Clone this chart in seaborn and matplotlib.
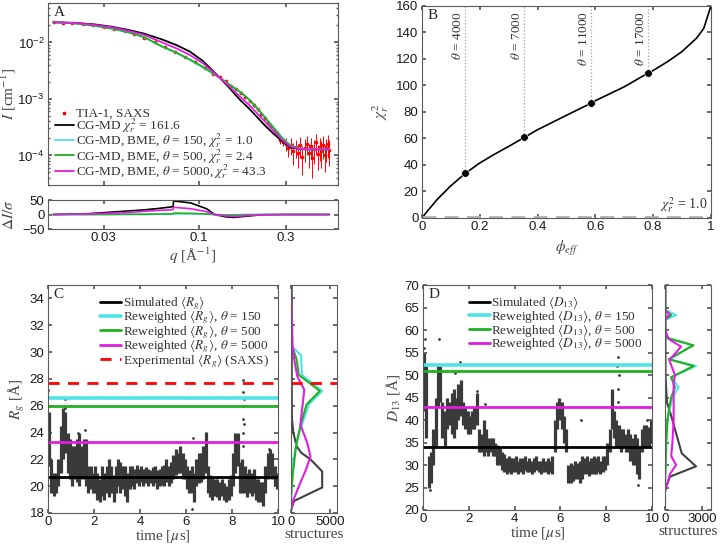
import numpy as np
import pandas as pd
import matplotlib
matplotlib.use("Agg")
import matplotlib.pyplot as plt
import seaborn as sns
from matplotlib.ticker import FixedLocator, NullFormatter, NullLocator, LogLocator

# ---------------- data: panel A (SAXS) ----------------
q_exp = [0.016, 0.018, 0.020, 0.023, 0.026, 0.030, 0.034, 0.039, 0.044, 0.050, 0.057,
         0.065, 0.074, 0.084, 0.095, 0.108, 0.12, 0.13, 0.14, 0.15, 0.16, 0.17, 0.18,
         0.19, 0.20, 0.21, 0.22, 0.23, 0.24, 0.25, 0.26, 0.27, 0.28, 0.29, 0.30, 0.31,
         0.32, 0.33, 0.34, 0.35, 0.36, 0.37, 0.38, 0.39, 0.40, 0.41, 0.42, 0.43, 0.44,
         0.45, 0.46, 0.47, 0.48, 0.49, 0.50, 0.51, 0.52]
I_exp = [0.0228, 0.0225, 0.0220, 0.0210, 0.0200, 0.0186, 0.0172, 0.0157, 0.0141, 0.0122,
         0.0102, 0.0082, 0.0068, 0.0056, 0.0045, 0.0035, 0.0028, 0.00240, 0.00205, 0.00172,
         0.00150, 0.00128, 0.00108, 0.00092, 0.00078, 0.00066, 0.00054, 0.00046, 0.00038,
         0.00033, 0.00027, 0.00024, 0.00019, 0.000175, 0.000160, 0.000135, 0.000150,
         0.000118, 0.000140, 0.000110, 0.000150, 0.000095, 0.000135, 0.000160, 0.000110,
         0.000145, 0.000090, 0.000130, 0.000170, 0.000105, 0.000140, 0.000120, 0.000155,
         0.000100, 0.000135, 0.000160, 0.000125]
I_err = [0.0002, 0.0002, 0.0002, 0.0002, 0.0002, 0.0002, 0.0002, 0.00015, 0.00015, 0.00012,
         0.0001, 0.0001, 0.00008, 0.00007, 0.00006, 0.00006, 0.00006, 0.00006, 0.00006,
         0.00006, 0.00006, 0.00006, 0.00005, 0.00005, 0.00005, 0.00004, 0.00004, 0.00004,
         0.00004, 0.00003, 0.00003, 0.00003, 0.00003, 0.00003, 0.00004, 0.00004, 0.00005,
         0.00005, 0.00005, 0.00005, 0.00006, 0.00005, 0.00006, 0.00006, 0.00005, 0.00006,
         0.00005, 0.00006, 0.00007, 0.00005, 0.00006, 0.00006, 0.00007, 0.00005, 0.00006,
         0.00007, 0.00006]

q_model = [0.0158, 0.021, 0.0268, 0.033, 0.041, 0.05, 0.0626, 0.075, 0.089, 0.105, 0.13,
           0.148, 0.168, 0.188, 0.208, 0.23, 0.255, 0.285, 0.316, 0.36, 0.4, 0.52]
I_cgmd = [0.0228, 0.0221, 0.0208, 0.0190, 0.0166, 0.0143, 0.0113, 0.0090, 0.0069, 0.0047,
          0.00237, 0.00152, 0.00096, 0.00068, 0.00048, 0.00034, 0.000247, 0.00018,
          0.000139, 0.00013, 0.000128, 0.000128]
I_bme150 = [0.0228, 0.0216, 0.0196, 0.0176, 0.0150, 0.0123, 0.0084, 0.0065, 0.0049, 0.0036,
            0.00236, 0.00177, 0.00134, 0.00099, 0.00070, 0.00048, 0.00032, 0.00021,
            0.000152, 0.000132, 0.000128, 0.000128]
I_bme500 = [0.0228, 0.0216, 0.0197, 0.0177, 0.0151, 0.0124, 0.0085, 0.0066, 0.0050, 0.0037,
            0.00237, 0.00176, 0.00133, 0.00098, 0.00069, 0.00047, 0.000316, 0.000205,
            0.000151, 0.000132, 0.000128, 0.000128]
I_bme5000 = [0.0228, 0.0220, 0.0204, 0.0186, 0.0160, 0.0136, 0.0100, 0.0079, 0.0060, 0.0043,
             0.00237, 0.00162, 0.00109, 0.00079, 0.00056, 0.00040, 0.000279, 0.00019,
             0.000145, 0.00013, 0.000128, 0.000128]

q_res = [0.0158, 0.025, 0.04, 0.05, 0.06, 0.072, 0.0725, 0.09, 0.11, 0.122, 0.14, 0.155,
         0.18, 0.22, 0.3, 0.52]
res_cgmd = [0, 3, 12, 16, 21, 27, 47, 40, 20, 0, -8, -10, -6, -1, 0, 0]
res_bme150 = [0, 0, 0, 0, 1, 1, 2, 2, 1, 0, -1, -1, 0, 0, 0, 0]
res_bme500 = [0, 0, 1, 1, 2, 2, 5, 4, 2, 0, -2, -2, -1, 0, 0, 0]
res_bme5000 = [0, 2, 7, 11, 14, 17, 25, 20, 10, 0, -5, -7, -4, -1, 0, 0]

# ---------------- data: panel B ----------------
phi_eff = [0.0, 0.02, 0.052, 0.098, 0.15, 0.2, 0.25, 0.3, 0.354, 0.4, 0.5, 0.586, 0.6,
           0.7, 0.782, 0.8, 0.85, 0.9, 0.95, 0.975, 1.0]
chi2_r = [0.0, 5.5, 13.8, 23.9, 33.7, 41.5, 48.0, 54.0, 60.8, 66.6, 77.5, 86.7, 88.5,
          99.0, 109.3, 111.3, 118.0, 125.6, 135.7, 143.0, 160.0]
theta_phi = [0.150, 0.354, 0.586, 0.782]
theta_chi = [33.7, 60.8, 86.7, 109.3]
theta_lab = ["4000", "7000", "11000", "17000"]

# ---------------- data: panel C (Rg) ----------------
rg_lo = [21.5, 19.5, 19.3, 19.5, 20.0, 21.0, 22.0, 22.5, 21.0, 20.5,
         20.0, 20.5, 20.3, 20.0, 20.5, 20.5, 20.0, 19.5, 19.8, 19.5,
         19.5, 19.0, 18.8, 19.3, 19.0, 19.5, 19.2, 19.5, 18.8, 19.5,
         20.0, 19.5, 19.8, 19.3, 18.8, 19.8, 20.0, 19.8, 20.2, 20.0,
         20.3, 20.0, 20.2, 20.0, 20.2, 20.0, 20.2, 19.8, 20.0, 20.1,
         20.0, 20.3, 20.0, 20.2, 20.5, 20.8, 21.0, 21.0, 20.5, 20.5,
         19.8, 19.5, 19.5, 18.8, 20.0, 20.2, 20.3, 20.5, 21.0, 19.5,
         19.2, 19.0, 19.3, 19.2, 19.0, 19.3, 19.0, 18.8, 19.0, 19.3,
         20.0, 21.0, 21.5, 19.5, 19.5, 19.5, 19.2, 19.5, 19.3, 19.5,
         19.0, 18.8, 18.8, 18.5, 19.5, 20.5, 20.8, 20.5, 20.0, 19.8]
rg_hi = [25.5, 22.0, 21.0, 21.0, 22.0, 24.5, 25.8, 25.5, 24.0, 23.5,
         23.0, 23.0, 23.5, 24.0, 23.0, 23.5, 23.5, 21.5, 21.5, 21.0,
         21.5, 21.0, 20.5, 21.5, 21.0, 21.5, 22.0, 21.5, 20.8, 21.5,
         22.0, 21.8, 21.5, 21.5, 21.0, 21.5, 21.5, 21.3, 21.6, 21.3,
         21.5, 21.3, 21.4, 21.3, 21.2, 21.4, 21.5, 21.2, 21.3, 21.5,
         21.6, 22.0, 21.5, 21.8, 22.3, 22.8, 22.5, 23.0, 22.5, 22.0,
         21.5, 21.2, 21.5, 21.0, 22.0, 22.5, 22.5, 23.0, 24.0, 21.5,
         20.8, 20.6, 20.5, 20.5, 20.3, 20.5, 20.2, 20.0, 20.5, 20.8,
         22.5, 24.0, 24.0, 21.8, 22.0, 21.5, 21.0, 21.3, 21.0, 21.3,
         20.5, 20.5, 20.3, 20.3, 21.5, 22.5, 22.8, 22.5, 21.5, 21.0]
rg_spike_t = [0.02, 0.04, 0.75, 1.32, 1.62, 6.28, 6.3, 6.85, 8.48, 8.5, 8.5, 8.52, 8.5, 9.6, 0.72,
              8.49, 8.51, 8.5]
rg_spike_v = [27.2, 26.0, 26.5, 24.0, 24.2, 18.3, 23.6, 24.0, 26.0, 27.9, 25.0, 24.6, 23.0, 22.8, 25.8,
              27.0, 26.5, 24.0]

rg_sim, rg_150, rg_500, rg_5000, rg_exp = 20.7, 26.6, 26.0, 23.3, 27.7

hC_sim_rg = [18.0, 18.25, 18.9, 19.9, 21.1, 22.0, 22.5, 23.0, 24.0, 25.0, 26.0, 28.0, 35.0]
hC_sim_n = [0, 0, 400, 4000, 4000, 2500, 1300, 700, 300, 120, 100, 90, 90]
hC_150_rg = [18.0, 20.0, 21.0, 21.9, 23.5, 24.5, 26.1, 27.1, 28.3, 29.75, 30.5, 35.0]
hC_150_n = [0, 0, 100, 300, 800, 1350, 2300, 4000, 1400, 1300, 0, 0]
hC_500_rg = [18.0, 19.0, 20.0, 21.0, 22.0, 23.0, 24.5, 26.1, 27.1, 28.3, 29.5, 30.5, 35.0]
hC_500_n = [0, 0, 100, 250, 450, 650, 1200, 2000, 3700, 1000, 700, 100, 0]
hC_5000_rg = [18.0, 18.25, 18.9, 20.4, 21.2, 22.2, 23.2, 24.6, 26.1, 27.2, 28.2, 29.5, 30.5, 35.0]
hC_5000_n = [0, 0, 250, 1300, 1900, 2500, 2100, 1200, 1500, 1700, 800, 400, 200, 0]

# ---------------- data: panel D (D13) ----------------
d_lo = [42, 36, 25, 26, 30, 34, 43, 44, 36, 34,
        38, 39, 37, 36, 38, 40, 41, 39, 38, 37,
        37, 38, 38, 39, 33, 33, 32, 33, 32, 33,
        32, 32, 30, 30, 29, 28.5, 28, 28.5, 28, 28.5,
        28.5, 28, 28.5, 28, 29, 28.5, 28.5, 28, 28.5, 29,
        28.5, 28, 28.5, 28.5, 28, 28.5, 28, 33, 38, 40,
        38, 35, 33, 26, 26, 26.5, 27, 27, 26, 27,
        28, 28, 27.5, 28, 28, 28, 28.5, 28, 28.5, 29,
        30, 33, 38, 36, 34, 34, 33, 34, 33, 33,
        31, 30, 30, 28, 27, 33, 34, 34, 34, 35]
d_hi = [55, 52, 32, 33, 38, 45, 52, 52, 44, 42,
        45, 44, 46, 47, 45, 48, 49, 44, 43, 42,
        41, 42, 43, 46, 38, 37, 40, 38, 36, 36,
        36, 35, 34.5, 34, 33, 32.5, 31.5, 32, 31.5, 31.5,
        32, 31, 31.5, 31.5, 32, 31, 31.5, 31, 31.5, 32,
        31, 31, 31.5, 31, 31.5, 31, 32, 40, 44, 45,
        44, 41, 38, 30, 30.5, 30, 31, 30.5, 31, 32,
        31.5, 32, 31, 31.5, 32, 31.5, 32, 31, 32, 32,
        35, 38, 47, 42, 40, 39, 38, 38, 37, 38,
        37, 36, 37, 36, 34, 38, 39, 39, 38.5, 40]
d_spike_t = [0.05, 0.1, 0.3, 0.7, 1.4, 1.6, 2.7, 6.9, 8.5, 8.5, 8.55, 9.4, 9.8, 2.35, 8.48, 8.52]
d_spike_v = [56, 58, 24.5, 58, 50.5, 53, 43.5, 40, 54, 47, 50, 25.5, 40, 46.5, 52, 44]

d_sim, d_150, d_500, d_5000 = 34.0, 52.2, 51.0, 42.8

hD_sim_y = [20, 24, 25.2, 27.4, 29.7, 32.6, 36, 40, 44, 50, 70]
hD_sim_n = [0, 0, 100, 400, 2500, 1350, 1000, 600, 150, 40, 40]
hD_150_y = [20, 26, 30, 35, 40, 42, 45, 47.3, 49.5, 52, 53.5, 56.6, 58.3, 60, 62.2, 63.3, 64.5, 70]
hD_150_n = [0, 0, 50, 100, 200, 350, 600, 1100, 500, 2500, 350, 2200, 100, 0, 0, 900, 0, 0]
hD_500_y = [20, 26, 30, 35, 40, 42, 45, 47.3, 49.5, 52, 53.5, 56.6, 58.3, 60, 62.2, 63.3, 64.5, 70]
hD_500_n = [0, 0, 50, 100, 200, 300, 500, 800, 500, 2300, 300, 2300, 100, 0, 0, 500, 0, 0]
hD_5000_y = [20, 24.5, 26, 28, 30, 32, 35, 40, 43, 48, 50, 53.3, 56.3, 58, 60, 62.2, 63.5, 64.5, 70]
hD_5000_n = [0, 0, 200, 400, 900, 500, 600, 700, 700, 700, 800, 350, 1300, 300, 0, 0, 350, 0, 0]

time_bins = [round(0.05 + 0.1 * i, 2) for i in range(100)]

# ---------------- style ----------------
sns.set_theme(style="ticks")
SERIF = ["Liberation Serif", "DejaVu Serif"]
plt.rcParams.update({
    "font.family": ["Liberation Sans", "DejaVu Sans"],
    "mathtext.fontset": "stix",
    "xtick.direction": "in", "ytick.direction": "in",
    "xtick.top": True, "ytick.right": True,
    "axes.edgecolor": "#5a5a5a", "axes.linewidth": 0.8,
    "xtick.color": "#5a5a5a", "ytick.color": "#5a5a5a",
    "xtick.labelcolor": "#1a1a1a", "ytick.labelcolor": "#1a1a1a",
    "xtick.labelsize": 9.5, "ytick.labelsize": 9.5,
    "xtick.major.size": 3, "ytick.major.size": 3,
    "xtick.minor.size": 1.5, "ytick.minor.size": 1.5,
    "xtick.major.pad": 2.5, "ytick.major.pad": 2.5,
    "axes.labelcolor": "#444444",
})
C_CYAN, C_GREEN, C_MAG, C_RED, C_GREY = "#4fe3e8", "#22b022", "#e01ee0", "#ff0000", "#3a3a3a"
lab_kw = dict(family=SERIF, size=11)
leg_prop = {"family": SERIF, "size": 9.5}
leg_kw = dict(frameon=False, prop=leg_prop, handletextpad=0.1, labelcolor="#333333")

fig = plt.figure(figsize=(7.25, 5.44), dpi=100)
axA = fig.add_axes([0.0662, 0.660, 0.400, 0.3346])
axR = fig.add_axes([0.0662, 0.579, 0.400, 0.0533])
axB = fig.add_axes([0.582, 0.5993, 0.3986, 0.3897])
axC = fig.add_axes([0.0662, 0.057, 0.3172, 0.419])
axCh = fig.add_axes([0.4014, 0.057, 0.0634, 0.419])
axD = fig.add_axes([0.5834, 0.0625, 0.3159, 0.4136])
axDh = fig.add_axes([0.9172, 0.0625, 0.0634, 0.4136])

# ---------------- panel A ----------------
axA.set_xscale("log"); axA.set_yscale("log")
axA.errorbar(q_exp, I_exp, yerr=I_err, fmt="none", ecolor=C_RED, elinewidth=0.7, zorder=1)
sns.scatterplot(x=q_exp, y=I_exp, ax=axA, color=C_RED, s=7, linewidth=0, zorder=2,
                label="TIA-1, SAXS")
sns.lineplot(x=q_model, y=I_cgmd, ax=axA, color="black", lw=1.3, zorder=3,
             label=r"CG-MD $\chi^2_r$ = 161.6")
sns.lineplot(x=q_model, y=I_bme150, ax=axA, color=C_CYAN, lw=1.3, zorder=3,
             label=r"CG-MD, BME, $\theta$ = 150, $\chi^2_r$ = 1.0")
sns.lineplot(x=q_model, y=I_bme500, ax=axA, color=C_GREEN, lw=1.3, zorder=3,
             label=r"CG-MD, BME, $\theta$ = 500, $\chi^2_r$ = 2.4")
sns.lineplot(x=q_model, y=I_bme5000, ax=axA, color=C_MAG, lw=1.3, zorder=3,
             label=r"CG-MD, BME, $\theta$ = 5000, $\chi^2_r$ = 43.3")
axA.set_xlim(0.0148, 0.58)
axA.set_ylim(3e-5, 5e-2)
axA.xaxis.set_major_locator(FixedLocator([0.03, 0.1, 0.3]))
axA.xaxis.set_minor_locator(NullLocator())
axA.xaxis.set_major_formatter(NullFormatter())
axA.yaxis.set_major_locator(LogLocator(base=10, numticks=10))
axA.set_ylabel(r"$I$ [cm$^{-1}$]", **lab_kw)
axA.yaxis.set_label_coords(-0.103, 0.5)
axA.legend(loc="lower left", bbox_to_anchor=(0.0, -0.015), handlelength=1.5,
           labelspacing=-0.25, borderaxespad=0.1, **leg_kw)
axA.text(0.02, 0.985, "A", transform=axA.transAxes, va="top", ha="left", **lab_kw)

axR.set_xscale("log")
for vals, col in [(res_cgmd, "black"), (res_bme150, C_CYAN), (res_bme500, C_GREEN),
                  (res_bme5000, C_MAG)]:
    sns.lineplot(x=q_res, y=vals, ax=axR, color=col, lw=1.2)
axR.set_xlim(0.0148, 0.58)
axR.set_ylim(-50, 50)
axR.set_yticks([-50, 0, 50])
axR.xaxis.set_major_locator(FixedLocator([0.03, 0.1, 0.3]))
axR.xaxis.set_minor_locator(NullLocator())
axR.set_xticklabels(["0.03", "0.1", "0.3"])
axR.set_xlabel(r"$q$ [Å$^{-1}$]", labelpad=1, **lab_kw)
axR.set_ylabel(r"$\Delta I/\sigma$", **lab_kw)
axR.yaxis.set_label_coords(-0.11, 0.5)

# ---------------- panel B ----------------
sns.lineplot(x=phi_eff, y=chi2_r, ax=axB, color="black", lw=1.2)
axB.axhline(1.0, color="#b0b0b0", ls=(0, (5, 3)), lw=2)
for p, c, t in zip(theta_phi, theta_chi, theta_lab):
    axB.vlines(p, c, 160, color="#a0a0a0", ls=":", lw=0.9)
    axB.text(p - 0.026, 156, r"$\theta$ = " + t, rotation=90, va="top",
             ha="center", family=SERIF, size=9.5, color="#333333")
sns.scatterplot(x=theta_phi, y=theta_chi, ax=axB, color="black", s=30, zorder=5)
axB.text(0.99, 2.5, r"$\chi^2_r$ = 1.0", ha="right", va="bottom", family=SERIF,
         size=10, color="#333333")
axB.set_xlim(0, 1); axB.set_ylim(0, 160)
axB.set_xticks([0, 0.2, 0.4, 0.6, 0.8, 1.0])
axB.set_xticklabels(["0", "0.2", "0.4", "0.6", "0.8", "1"])
axB.set_yticks(range(0, 161, 20))
axB.set_xlabel(r"$\phi_{eff}$", **lab_kw)
axB.set_ylabel(r"$\chi^2_r$", **lab_kw)
axB.text(0.02, 0.985, "B", transform=axB.transAxes, va="top", ha="left", **lab_kw)

# ---------------- panel C ----------------
axC.vlines(time_bins, rg_lo, rg_hi, color=C_GREY, lw=2.3)
sns.scatterplot(x=rg_spike_t, y=rg_spike_v, ax=axC, color=C_GREY, s=4, linewidth=0)
axC.axhline(rg_sim, color="black", lw=2.0, label=r"Simulated $\langle R_g\rangle$")
axC.axhline(rg_150, color=C_CYAN, lw=2.6, label=r"Reweighted $\langle R_g\rangle$, $\theta$ = 150")
axC.axhline(rg_500, color=C_GREEN, lw=2.0, label=r"Reweighted $\langle R_g\rangle$, $\theta$ = 500")
axC.axhline(rg_5000, color=C_MAG, lw=2.0, label=r"Reweighted $\langle R_g\rangle$, $\theta$ = 5000")
axC.axhline(rg_exp, color=C_RED, lw=2.0, ls=(0, (4, 3)),
            label=r"Experimental $\langle R_g\rangle$ (SAXS)")
axC.set_xlim(0, 10); axC.set_ylim(18, 35)
axC.set_xticks([0, 2, 4, 6, 8, 10]); axC.set_yticks(range(18, 35, 2))
axC.set_xlabel(r"time [$\mu$s]", labelpad=0, **lab_kw)
axC.set_ylabel(r"$R_g$ [Å]", labelpad=2, **lab_kw)
axC.legend(loc="upper right", bbox_to_anchor=(1.0, 1.0), handlelength=1.6,
           labelspacing=-0.25, borderaxespad=0.3, **leg_kw)
axC.text(0.025, 0.985, "C", transform=axC.transAxes, va="top", ha="left", **lab_kw)

for rr, nn, col in [(hC_sim_rg, hC_sim_n, "#404040"), (hC_150_rg, hC_150_n, C_CYAN),
                    (hC_500_rg, hC_500_n, C_GREEN), (hC_5000_rg, hC_5000_n, C_MAG)]:
    sns.lineplot(x=nn, y=rr, ax=axCh, color=col, lw=1.5, sort=False, estimator=None)
axCh.axhline(rg_exp, color=C_RED, lw=2.0, ls=(0, (4, 3)))
axCh.set_xlim(0, 5900); axCh.set_ylim(18, 35)
axCh.set_xticks([0, 5000]); axCh.set_yticks(range(18, 35, 2))
axCh.tick_params(labelleft=False)
axCh.set_xlabel("structures", labelpad=0, **lab_kw)

# ---------------- panel D ----------------
axD.vlines(time_bins, d_lo, d_hi, color=C_GREY, lw=2.3)
sns.scatterplot(x=d_spike_t, y=d_spike_v, ax=axD, color=C_GREY, s=4, linewidth=0)
axD.axhline(d_sim, color="black", lw=2.0, label=r"Simulated $\langle D_{13}\rangle$")
axD.axhline(d_150, color=C_CYAN, lw=2.6, label=r"Reweighted $\langle D_{13}\rangle$, $\theta$ = 150")
axD.axhline(d_500, color=C_GREEN, lw=2.0, label=r"Reweighted $\langle D_{13}\rangle$, $\theta$ = 500")
axD.axhline(d_5000, color=C_MAG, lw=2.0, label=r"Reweighted $\langle D_{13}\rangle$, $\theta$ = 5000")
axD.set_xlim(0, 10); axD.set_ylim(20, 70)
axD.set_xticks([0, 2, 4, 6, 8, 10]); axD.set_yticks(range(20, 71, 5))
axD.set_xlabel(r"time [$\mu$s]", labelpad=0, **lab_kw)
axD.set_ylabel(r"$D_{13}$ [Å]", labelpad=2, **lab_kw)
axD.legend(loc="upper right", bbox_to_anchor=(1.0, 1.0), handlelength=1.6,
           labelspacing=-0.25, borderaxespad=0.3, **leg_kw)
axD.text(0.025, 0.985, "D", transform=axD.transAxes, va="top", ha="left", **lab_kw)

for yy, nn, col in [(hD_sim_y, hD_sim_n, "#404040"), (hD_150_y, hD_150_n, C_CYAN),
                    (hD_500_y, hD_500_n, C_GREEN), (hD_5000_y, hD_5000_n, C_MAG)]:
    sns.lineplot(x=nn, y=yy, ax=axDh, color=col, lw=1.5, sort=False, estimator=None)
axDh.set_xlim(0, 3700); axDh.set_ylim(20, 70)
axDh.set_xticks([0, 3000]); axDh.set_yticks(range(20, 71, 5))
axDh.tick_params(labelleft=False)
axDh.set_xlabel("structures", labelpad=0, **lab_kw)

for ax in [axA, axR, axB, axC, axCh, axD, axDh]:
    ax.set_facecolor("white")
    for s in ax.spines.values():
        s.set_visible(True)

fig.savefig("out.png", dpi=100, facecolor="white")
